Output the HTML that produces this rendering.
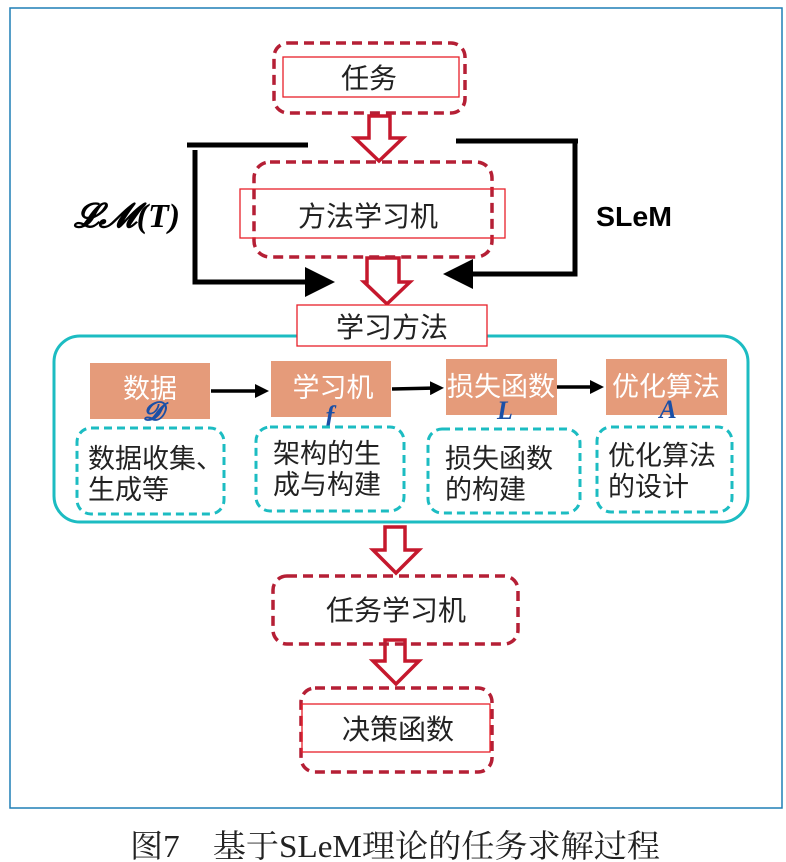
<!DOCTYPE html>
<html><head><meta charset="utf-8">
<style>
html,body{margin:0;padding:0;background:#fff;}
svg{display:block;}
.cjk{font-family:"Liberation Sans","Noto Sans CJK SC",sans-serif;}
</style></head>
<body>
<svg width="786" height="862" viewBox="0 0 786 862" xmlns="http://www.w3.org/2000/svg">
<defs>
<marker id="ah" markerWidth="6" markerHeight="6" refX="3" refY="3" orient="auto" markerUnits="strokeWidth">
<path d="M0,0 L6,3 L0,6 z" fill="#000"/></marker>
<marker id="ah2" markerWidth="4" markerHeight="4" refX="2" refY="2" orient="auto" markerUnits="strokeWidth">
<path d="M0,0 L4,2 L0,4 z" fill="#000"/></marker>
</defs>
<rect x="10" y="8" width="772" height="800" fill="none" stroke="#1f7fb5" stroke-width="1.5"/>

<!-- Task -->
<rect x="274" y="43" width="191" height="70" rx="14" fill="none" stroke="#b51f35" stroke-width="3.5" stroke-dasharray="10 6"/>
<rect x="283" y="57" width="176" height="40" fill="none" stroke="#e8202a" stroke-width="1.3"/>
<text x="369" y="88" class="cjk" font-size="28" text-anchor="middle" fill="#222">任务</text>

<!-- hollow arrows -->
<g fill="#fff" stroke="#c5182d" stroke-width="3.5" stroke-linejoin="miter">
<path d="M369,116 H390 V138 H403 L379,161 L355,138 H369 Z"/>
<path d="M367,258 H399 V282 H410 L387,304 L364,282 H367 Z"/>
<path d="M385,527 H405 V550 H419 L396,573 L373,550 H385 Z"/>
<path d="M385,640 H405 V661 H419 L396,684 L373,661 H385 Z"/>
</g>

<!-- black connectors -->
<g stroke="#000" stroke-width="5" fill="none">
<line x1="187" y1="145" x2="308" y2="145"/>
<polyline points="195,150 195,282 320,282" marker-end="url(#ah)"/>
<line x1="456" y1="141" x2="578" y2="141"/>
<polyline points="575,141 575,274 458,274" marker-end="url(#ah)"/>
</g>

<!-- method learning machine -->
<rect x="254" y="162" width="238" height="95" rx="16" fill="none" stroke="#b51f35" stroke-width="3.5" stroke-dasharray="10 6"/>
<rect x="240" y="189" width="265" height="49" fill="none" stroke="#e8202a" stroke-width="1.3"/>
<text x="368" y="226" class="cjk" font-size="28" text-anchor="middle" fill="#222">方法学习机</text>

<text x="74" y="227" font-family="Liberation Serif,serif" font-style="italic" font-weight="bold" font-size="34" fill="#000" textLength="106" lengthAdjust="spacingAndGlyphs">𝓛𝓜(T)</text>
<text x="596" y="226" font-family="Liberation Sans,sans-serif" font-weight="bold" font-size="28" fill="#000" textLength="76" lengthAdjust="spacingAndGlyphs">SLeM</text>

<!-- learning method big box -->
<rect x="54" y="336" width="694" height="186" rx="26" fill="#fff" stroke="#1cbcc2" stroke-width="3"/>
<rect x="297" y="305" width="190" height="41" fill="#fff" stroke="#e8202a" stroke-width="1.3"/>
<text x="392" y="337" class="cjk" font-size="28" text-anchor="middle" fill="#222">学习方法</text>

<g fill="#e59b7a">
<rect x="90" y="363" width="120" height="56"/>
<rect x="271" y="361" width="120" height="56"/>
<rect x="446" y="359" width="111" height="56"/>
<rect x="606" y="359" width="121" height="56"/>
</g>
<g class="cjk" font-size="27" fill="#fff" text-anchor="middle">
<text x="150" y="398">数据</text>
<text x="333" y="397">学习机</text>
<text x="501" y="396">损失函数</text>
<text x="666" y="396">优化算法</text>
</g>
<g stroke="#000" stroke-width="3.5" fill="none">
<line x1="211" y1="391" x2="262" y2="391" marker-end="url(#ah2)"/>
<line x1="392" y1="389" x2="437" y2="388" marker-end="url(#ah2)"/>
<line x1="557" y1="387" x2="597" y2="387" marker-end="url(#ah2)"/>
</g>
<g font-family="Liberation Serif,serif" font-style="italic" font-weight="bold" font-size="26" fill="#1a4fa6" text-anchor="middle">
<text x="153" y="420">𝓓</text>
<text x="330" y="424">f</text>
<text x="505" y="419">L</text>
<text x="668" y="418">A</text>
</g>

<g fill="#fff" stroke="#1cbcc2" stroke-width="3" stroke-dasharray="8 5">
<rect x="77" y="428" width="147" height="86" rx="14"/>
<rect x="256" y="427" width="148" height="84" rx="14"/>
<rect x="428" y="429" width="152" height="84" rx="14"/>
<rect x="597" y="427" width="135" height="85" rx="14"/>
</g>
<g class="cjk" font-size="27" fill="#222">
<text x="88" y="468">数据收集、</text><text x="88" y="499">生成等</text>
<text x="273" y="463">架构的生</text><text x="273" y="494">成与构建</text>
<text x="445" y="468">损失函数</text><text x="445" y="499">的构建</text>
<text x="608" y="465">优化算法</text><text x="608" y="496">的设计</text>
</g>

<!-- task learning machine -->
<rect x="273" y="576" width="245" height="68" rx="14" fill="none" stroke="#b51f35" stroke-width="3.5" stroke-dasharray="10 6"/>
<text x="396" y="620" class="cjk" font-size="28" text-anchor="middle" fill="#222">任务学习机</text>

<!-- decision function -->
<rect x="301" y="688" width="191" height="84" rx="14" fill="none" stroke="#b51f35" stroke-width="3.5" stroke-dasharray="10 6"/>
<rect x="302" y="704" width="188" height="48" fill="none" stroke="#e8202a" stroke-width="1.3"/>
<text x="398" y="739" class="cjk" font-size="28" text-anchor="middle" fill="#222">决策函数</text>

<text x="130" y="857" font-family="Liberation Serif,'Noto Serif CJK SC',serif" font-size="32" fill="#222" textLength="530" lengthAdjust="spacingAndGlyphs">图7　基于SLeM理论的任务求解过程</text>
</svg>
</body></html>
